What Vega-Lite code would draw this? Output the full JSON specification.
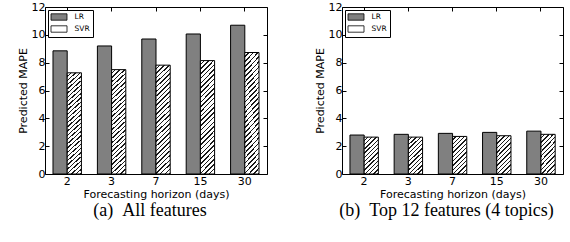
{
  "$schema": "https://vega.github.io/schema/vega-lite/v6.json",
  "background": "white",
  "padding": {"left": 16, "top": 0, "right": 0, "bottom": 0},
  "spacing": 45,
  "resolve": {"scale": {"fill": "independent"}, "legend": {"fill": "independent"}},
  "data": {
    "values": [
      {"panel": "a", "horizon": 2, "model": "LR", "value": 8.85},
      {"panel": "a", "horizon": 3, "model": "LR", "value": 9.2},
      {"panel": "a", "horizon": 7, "model": "LR", "value": 9.7},
      {"panel": "a", "horizon": 15, "model": "LR", "value": 10.06},
      {"panel": "a", "horizon": 30, "model": "LR", "value": 10.69},
      {"panel": "a", "horizon": 2, "model": "SVR", "value": 7.27},
      {"panel": "a", "horizon": 3, "model": "SVR", "value": 7.5},
      {"panel": "a", "horizon": 7, "model": "SVR", "value": 7.82},
      {"panel": "a", "horizon": 15, "model": "SVR", "value": 8.15},
      {"panel": "a", "horizon": 30, "model": "SVR", "value": 8.73},
      {"panel": "b", "horizon": 2, "model": "LR", "value": 2.8},
      {"panel": "b", "horizon": 3, "model": "LR", "value": 2.85},
      {"panel": "b", "horizon": 7, "model": "LR", "value": 2.92},
      {"panel": "b", "horizon": 15, "model": "LR", "value": 2.99},
      {"panel": "b", "horizon": 30, "model": "LR", "value": 3.08},
      {"panel": "b", "horizon": 2, "model": "SVR", "value": 2.65},
      {"panel": "b", "horizon": 3, "model": "SVR", "value": 2.65},
      {"panel": "b", "horizon": 7, "model": "SVR", "value": 2.7},
      {"panel": "b", "horizon": 15, "model": "SVR", "value": 2.75},
      {"panel": "b", "horizon": 30, "model": "SVR", "value": 2.85}
    ]
  },
  "config": {
    "view": {"stroke": "#000", "strokeWidth": 1},
    "axis": {
      "grid": false,
      "domain": false,
      "labelFont": "DejaVu Sans",
      "labelFontSize": 11,
      "labelColor": "#000",
      "titleFont": "DejaVu Sans",
      "titleFontSize": 11,
      "titleFontWeight": "normal",
      "titleColor": "#000",
      "tickColor": "#000",
      "tickWidth": 1,
      "tickSize": -4,
      "minExtent": 0
    },
    "legend": {
      "orient": "top-left", "offset": 3, "title": null,
      "symbolType": "M-2,-0.8H2V0.8H-2Z", "symbolSize": 64, "symbolOffset": 4,
      "symbolStrokeColor": "#000", "symbolStrokeWidth": 0.8,
      "labelFont": "DejaVu Sans", "labelFontSize": 7.5, "labelColor": "#000", "labelOffset": 11,
      "strokeColor": "#000", "fillColor": "#fff", "padding": 2.5, "rowPadding": 1
    },
    "title": {
      "font": "Liberation Serif",
      "fontSize": 18,
      "fontWeight": "normal",
      "color": "#000",
      "orient": "bottom"
    }
  },
  "hconcat": [
    {
      "width": 222,
      "height": 167,
      "title": {"text": "(a)\u00a0\u00a0All features", "dx": -6, "offset": 3},
      "transform": [{"filter": "datum.panel === 'a'"}],
      "layer": [
        {
          "transform": [{"filter": "datum.model === 'LR'"}],
          "mark": {"type": "bar", "stroke": "#000", "strokeWidth": 1},
          "encoding": {
            "x": {"field": "horizon", "type": "ordinal", "sort": [2, 3, 7, 15, 30],
              "scale": {"paddingInner": 0.36, "paddingOuter": 0.18},
              "axis": {"orient": "bottom", "labelAngle": 0, "labelPadding": 5, "title": "Forecasting horizon (days)", "titlePadding": 2}},
            "xOffset": {"field": "model", "scale": {"domain": ["LR", "SVR"]}},
            "y": {"field": "value", "type": "quantitative", "scale": {"domain": [0, 12]},
              "axis": {"orient": "left", "values": [0, 2, 4, 6, 8, 10, 12], "labelPadding": 4, "title": "Predicted MAPE", "titlePadding": 3}},
            "fill": {"field": "model", "type": "nominal",
              "scale": {"domain": ["LR", "SVR"], "range": ["#808080", "#ffffff"]},
              "legend": {
                "encode": {
                  "legend": {"update": {"stroke": {"value": "#000"}, "strokeWidth": {"value": 1}, "fill": {"value": "#fff"}}},
                  "symbols": {"update": {"stroke": {"value": "#000"}, "strokeWidth": {"value": 0.8},
                    "fill": [
                      {"test": "datum.value === 'SVR'", "value": {"gradient": "linear", "x1": 0, "y1": 0, "x2": 1.208, "y2": 0.491, "stops": [
                        {"offset": 0, "color": "#fff"}, {"offset": 0.136, "color": "#fff"}, {"offset": 0.136, "color": "#1a1a1a"}, {"offset": 0.2, "color": "#1a1a1a"},
                        {"offset": 0.2, "color": "#fff"}, {"offset": 0.336, "color": "#fff"}, {"offset": 0.336, "color": "#1a1a1a"}, {"offset": 0.4, "color": "#1a1a1a"},
                        {"offset": 0.4, "color": "#fff"}, {"offset": 0.536, "color": "#fff"}, {"offset": 0.536, "color": "#1a1a1a"}, {"offset": 0.6, "color": "#1a1a1a"},
                        {"offset": 0.6, "color": "#fff"}, {"offset": 0.736, "color": "#fff"}, {"offset": 0.736, "color": "#1a1a1a"}, {"offset": 0.8, "color": "#1a1a1a"},
                        {"offset": 0.8, "color": "#fff"}, {"offset": 0.936, "color": "#fff"}, {"offset": 0.936, "color": "#1a1a1a"}, {"offset": 1, "color": "#1a1a1a"}]}},
                      {"value": "#808080"}
                    ]}}
                }
              }}
          }
        },
        {
          "transform": [{"filter": "datum.model === 'SVR'"}],
          "mark": {"type": "bar", "stroke": "#000", "strokeWidth": 1,
            "fill": {"gradient": "linear", "x1": 0, "y1": 0, "x2": 0.141, "y2": 1.109, "stops": [
              {"offset": 0, "color": "#fff"}, {"offset": 0.0252, "color": "#fff"}, {"offset": 0.0252, "color": "#1a1a1a"}, {"offset": 0.037, "color": "#1a1a1a"},
              {"offset": 0.037, "color": "#fff"}, {"offset": 0.0622, "color": "#fff"}, {"offset": 0.0622, "color": "#1a1a1a"}, {"offset": 0.0741, "color": "#1a1a1a"},
              {"offset": 0.0741, "color": "#fff"}, {"offset": 0.0993, "color": "#fff"}, {"offset": 0.0993, "color": "#1a1a1a"}, {"offset": 0.1111, "color": "#1a1a1a"},
              {"offset": 0.1111, "color": "#fff"}, {"offset": 0.1363, "color": "#fff"}, {"offset": 0.1363, "color": "#1a1a1a"}, {"offset": 0.1481, "color": "#1a1a1a"},
              {"offset": 0.1481, "color": "#fff"}, {"offset": 0.1733, "color": "#fff"}, {"offset": 0.1733, "color": "#1a1a1a"}, {"offset": 0.1852, "color": "#1a1a1a"},
              {"offset": 0.1852, "color": "#fff"}, {"offset": 0.2104, "color": "#fff"}, {"offset": 0.2104, "color": "#1a1a1a"}, {"offset": 0.2222, "color": "#1a1a1a"},
              {"offset": 0.2222, "color": "#fff"}, {"offset": 0.2474, "color": "#fff"}, {"offset": 0.2474, "color": "#1a1a1a"}, {"offset": 0.2593, "color": "#1a1a1a"},
              {"offset": 0.2593, "color": "#fff"}, {"offset": 0.2844, "color": "#fff"}, {"offset": 0.2844, "color": "#1a1a1a"}, {"offset": 0.2963, "color": "#1a1a1a"},
              {"offset": 0.2963, "color": "#fff"}, {"offset": 0.3215, "color": "#fff"}, {"offset": 0.3215, "color": "#1a1a1a"}, {"offset": 0.3333, "color": "#1a1a1a"},
              {"offset": 0.3333, "color": "#fff"}, {"offset": 0.3585, "color": "#fff"}, {"offset": 0.3585, "color": "#1a1a1a"}, {"offset": 0.3704, "color": "#1a1a1a"},
              {"offset": 0.3704, "color": "#fff"}, {"offset": 0.3956, "color": "#fff"}, {"offset": 0.3956, "color": "#1a1a1a"}, {"offset": 0.4074, "color": "#1a1a1a"},
              {"offset": 0.4074, "color": "#fff"}, {"offset": 0.4326, "color": "#fff"}, {"offset": 0.4326, "color": "#1a1a1a"}, {"offset": 0.4444, "color": "#1a1a1a"},
              {"offset": 0.4444, "color": "#fff"}, {"offset": 0.4696, "color": "#fff"}, {"offset": 0.4696, "color": "#1a1a1a"}, {"offset": 0.4815, "color": "#1a1a1a"},
              {"offset": 0.4815, "color": "#fff"}, {"offset": 0.5067, "color": "#fff"}, {"offset": 0.5067, "color": "#1a1a1a"}, {"offset": 0.5185, "color": "#1a1a1a"},
              {"offset": 0.5185, "color": "#fff"}, {"offset": 0.5437, "color": "#fff"}, {"offset": 0.5437, "color": "#1a1a1a"}, {"offset": 0.5556, "color": "#1a1a1a"},
              {"offset": 0.5556, "color": "#fff"}, {"offset": 0.5807, "color": "#fff"}, {"offset": 0.5807, "color": "#1a1a1a"}, {"offset": 0.5926, "color": "#1a1a1a"},
              {"offset": 0.5926, "color": "#fff"}, {"offset": 0.6178, "color": "#fff"}, {"offset": 0.6178, "color": "#1a1a1a"}, {"offset": 0.6296, "color": "#1a1a1a"},
              {"offset": 0.6296, "color": "#fff"}, {"offset": 0.6548, "color": "#fff"}, {"offset": 0.6548, "color": "#1a1a1a"}, {"offset": 0.6667, "color": "#1a1a1a"},
              {"offset": 0.6667, "color": "#fff"}, {"offset": 0.6919, "color": "#fff"}, {"offset": 0.6919, "color": "#1a1a1a"}, {"offset": 0.7037, "color": "#1a1a1a"},
              {"offset": 0.7037, "color": "#fff"}, {"offset": 0.7289, "color": "#fff"}, {"offset": 0.7289, "color": "#1a1a1a"}, {"offset": 0.7407, "color": "#1a1a1a"},
              {"offset": 0.7407, "color": "#fff"}, {"offset": 0.7659, "color": "#fff"}, {"offset": 0.7659, "color": "#1a1a1a"}, {"offset": 0.7778, "color": "#1a1a1a"},
              {"offset": 0.7778, "color": "#fff"}, {"offset": 0.803, "color": "#fff"}, {"offset": 0.803, "color": "#1a1a1a"}, {"offset": 0.8148, "color": "#1a1a1a"},
              {"offset": 0.8148, "color": "#fff"}, {"offset": 0.84, "color": "#fff"}, {"offset": 0.84, "color": "#1a1a1a"}, {"offset": 0.8519, "color": "#1a1a1a"},
              {"offset": 0.8519, "color": "#fff"}, {"offset": 0.877, "color": "#fff"}, {"offset": 0.877, "color": "#1a1a1a"}, {"offset": 0.8889, "color": "#1a1a1a"},
              {"offset": 0.8889, "color": "#fff"}, {"offset": 0.9141, "color": "#fff"}, {"offset": 0.9141, "color": "#1a1a1a"}, {"offset": 0.9259, "color": "#1a1a1a"},
              {"offset": 0.9259, "color": "#fff"}, {"offset": 0.9511, "color": "#fff"}, {"offset": 0.9511, "color": "#1a1a1a"}, {"offset": 0.963, "color": "#1a1a1a"},
              {"offset": 0.963, "color": "#fff"}, {"offset": 0.9881, "color": "#fff"}, {"offset": 0.9881, "color": "#1a1a1a"}, {"offset": 1, "color": "#1a1a1a"}
            ]}},
          "encoding": {
            "x": {"field": "horizon", "type": "ordinal", "sort": [2, 3, 7, 15, 30],
              "axis": {"orient": "top", "labels": false, "title": null}},
            "xOffset": {"field": "model"},
            "y": {"field": "value", "type": "quantitative",
              "axis": {"orient": "right", "labels": false, "title": null, "values": [0, 2, 4, 6, 8, 10, 12]}}
          }
        }
      ]
    },
    {
      "width": 221,
      "height": 167,
      "title": {"text": "(b)\u00a0\u00a0Top 12 features (4 topics)", "dx": -6, "offset": 3},
      "transform": [{"filter": "datum.panel === 'b'"}],
      "layer": [
        {
          "transform": [{"filter": "datum.model === 'LR'"}],
          "mark": {"type": "bar", "stroke": "#000", "strokeWidth": 1},
          "encoding": {
            "x": {"field": "horizon", "type": "ordinal", "sort": [2, 3, 7, 15, 30],
              "scale": {"paddingInner": 0.36, "paddingOuter": 0.18},
              "axis": {"orient": "bottom", "labelAngle": 0, "labelPadding": 5, "title": "Forecasting horizon (days)", "titlePadding": 2}},
            "xOffset": {"field": "model", "scale": {"domain": ["LR", "SVR"]}},
            "y": {"field": "value", "type": "quantitative", "scale": {"domain": [0, 12]},
              "axis": {"orient": "left", "values": [0, 2, 4, 6, 8, 10, 12], "labelPadding": 4, "title": "Predicted MAPE", "titlePadding": 3}},
            "fill": {"field": "model", "type": "nominal",
              "scale": {"domain": ["LR", "SVR"], "range": ["#808080", "#ffffff"]},
              "legend": {
                "encode": {
                  "legend": {"update": {"stroke": {"value": "#000"}, "strokeWidth": {"value": 1}, "fill": {"value": "#fff"}}},
                  "symbols": {"update": {"stroke": {"value": "#000"}, "strokeWidth": {"value": 0.8},
                    "fill": [
                      {"test": "datum.value === 'SVR'", "value": {"gradient": "linear", "x1": 0, "y1": 0, "x2": 1.208, "y2": 0.491, "stops": [
                        {"offset": 0, "color": "#fff"}, {"offset": 0.136, "color": "#fff"}, {"offset": 0.136, "color": "#1a1a1a"}, {"offset": 0.2, "color": "#1a1a1a"},
                        {"offset": 0.2, "color": "#fff"}, {"offset": 0.336, "color": "#fff"}, {"offset": 0.336, "color": "#1a1a1a"}, {"offset": 0.4, "color": "#1a1a1a"},
                        {"offset": 0.4, "color": "#fff"}, {"offset": 0.536, "color": "#fff"}, {"offset": 0.536, "color": "#1a1a1a"}, {"offset": 0.6, "color": "#1a1a1a"},
                        {"offset": 0.6, "color": "#fff"}, {"offset": 0.736, "color": "#fff"}, {"offset": 0.736, "color": "#1a1a1a"}, {"offset": 0.8, "color": "#1a1a1a"},
                        {"offset": 0.8, "color": "#fff"}, {"offset": 0.936, "color": "#fff"}, {"offset": 0.936, "color": "#1a1a1a"}, {"offset": 1, "color": "#1a1a1a"}]}},
                      {"value": "#808080"}
                    ]}}
                }
              }}
          }
        },
        {
          "transform": [{"filter": "datum.model === 'SVR'"}],
          "mark": {"type": "bar", "stroke": "#000", "strokeWidth": 1,
            "fill": {"gradient": "linear", "x1": 0, "y1": 0, "x2": 0.453, "y2": 1.2055, "stops": [
              {"offset": 0, "color": "#fff"}, {"offset": 0.0567, "color": "#fff"}, {"offset": 0.0567, "color": "#1a1a1a"}, {"offset": 0.0833, "color": "#1a1a1a"},
              {"offset": 0.0833, "color": "#fff"}, {"offset": 0.14, "color": "#fff"}, {"offset": 0.14, "color": "#1a1a1a"}, {"offset": 0.1667, "color": "#1a1a1a"},
              {"offset": 0.1667, "color": "#fff"}, {"offset": 0.2233, "color": "#fff"}, {"offset": 0.2233, "color": "#1a1a1a"}, {"offset": 0.25, "color": "#1a1a1a"},
              {"offset": 0.25, "color": "#fff"}, {"offset": 0.3067, "color": "#fff"}, {"offset": 0.3067, "color": "#1a1a1a"}, {"offset": 0.3333, "color": "#1a1a1a"},
              {"offset": 0.3333, "color": "#fff"}, {"offset": 0.39, "color": "#fff"}, {"offset": 0.39, "color": "#1a1a1a"}, {"offset": 0.4167, "color": "#1a1a1a"},
              {"offset": 0.4167, "color": "#fff"}, {"offset": 0.4733, "color": "#fff"}, {"offset": 0.4733, "color": "#1a1a1a"}, {"offset": 0.5, "color": "#1a1a1a"},
              {"offset": 0.5, "color": "#fff"}, {"offset": 0.5567, "color": "#fff"}, {"offset": 0.5567, "color": "#1a1a1a"}, {"offset": 0.5833, "color": "#1a1a1a"},
              {"offset": 0.5833, "color": "#fff"}, {"offset": 0.64, "color": "#fff"}, {"offset": 0.64, "color": "#1a1a1a"}, {"offset": 0.6667, "color": "#1a1a1a"},
              {"offset": 0.6667, "color": "#fff"}, {"offset": 0.7233, "color": "#fff"}, {"offset": 0.7233, "color": "#1a1a1a"}, {"offset": 0.75, "color": "#1a1a1a"},
              {"offset": 0.75, "color": "#fff"}, {"offset": 0.8067, "color": "#fff"}, {"offset": 0.8067, "color": "#1a1a1a"}, {"offset": 0.8333, "color": "#1a1a1a"},
              {"offset": 0.8333, "color": "#fff"}, {"offset": 0.89, "color": "#fff"}, {"offset": 0.89, "color": "#1a1a1a"}, {"offset": 0.9167, "color": "#1a1a1a"},
              {"offset": 0.9167, "color": "#fff"}, {"offset": 0.9733, "color": "#fff"}, {"offset": 0.9733, "color": "#1a1a1a"}, {"offset": 1, "color": "#1a1a1a"}
            ]}},
          "encoding": {
            "x": {"field": "horizon", "type": "ordinal", "sort": [2, 3, 7, 15, 30],
              "axis": {"orient": "top", "labels": false, "title": null}},
            "xOffset": {"field": "model"},
            "y": {"field": "value", "type": "quantitative",
              "axis": {"orient": "right", "labels": false, "title": null, "values": [0, 2, 4, 6, 8, 10, 12]}}
          }
        }
      ]
    }
  ]
}
